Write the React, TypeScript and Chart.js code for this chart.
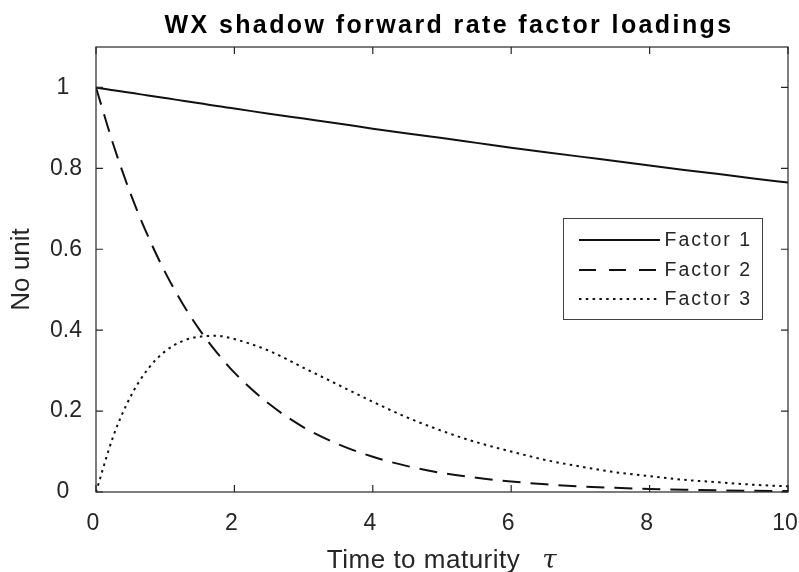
import { useEffect, useRef } from "react";
import { Chart, registerables } from "chart.js";

Chart.register(...registerables);

// ---- data ----
const tau = [0, 0.25, 0.5, 0.75, 1, 1.25, 1.5, 1.75, 2, 2.5, 3, 3.5, 4, 4.5, 5, 5.5, 6, 6.5, 7, 7.5, 8, 8.5, 9, 9.5, 10];
const factor1 = [1, 0.993, 0.987, 0.98, 0.974, 0.967, 0.961, 0.954, 0.948, 0.935, 0.923, 0.911, 0.898, 0.886, 0.875, 0.863, 0.851, 0.84, 0.829, 0.818, 0.807, 0.796, 0.786, 0.775, 0.765];
const factor2 = [1, 0.859, 0.737, 0.633, 0.543, 0.466, 0.4, 0.344, 0.295, 0.218, 0.16, 0.118, 0.087, 0.064, 0.047, 0.035, 0.026, 0.019, 0.014, 0.0103, 0.0076, 0.0056, 0.0041, 0.003, 0.0022];
const factor3 = [0, 0.138, 0.236, 0.304, 0.348, 0.373, 0.384, 0.386, 0.378, 0.349, 0.307, 0.265, 0.223, 0.184, 0.151, 0.123, 0.1, 0.079, 0.063, 0.049, 0.039, 0.03, 0.024, 0.018, 0.014];
const seriesNames = ["Factor 1", "Factor 2", "Factor 3"];
const xTickValues = [0, 2, 4, 6, 8, 10];
const xTickLabels = ["0", "2", "4", "6", "8", "10"];
const yTickValues = [0, 0.2, 0.4, 0.6, 0.8, 1];
const yTickLabels = ["0", "0.2", "0.4", "0.6", "0.8", "1"];
const titleText = "WX shadow forward rate factor loadings";
const xLabelText = "Time to maturity";
const xLabelSymbol = "τ";
const yLabelText = "No unit";

const FONT = "'Liberation Sans', Arial, Helvetica, sans-serif";
const SERIF = "'DejaVu Serif', 'Liberation Serif', serif";
const AXIS = "#262626";
const LINE = "#111111";
const plotDash = [[], [18, 10], [2.5, 4.3]];
const legendDash = [[], [17, 13], [2.5, 4.3]];

const decor = {
  id: "matlabDecor",
  afterDatasetsDraw(chart: any) {
    const { ctx, chartArea: a, scales } = chart;
    const x = scales.x;
    const y = scales.y;
    ctx.save();
    // axes box
    ctx.strokeStyle = AXIS;
    ctx.lineWidth = 1.2;
    ctx.setLineDash([]);
    ctx.strokeRect(a.left, a.top, a.right - a.left, a.bottom - a.top);
    const tl = 7;
    ctx.beginPath();
    xTickValues.forEach((v) => {
      const px = x.getPixelForValue(v);
      ctx.moveTo(px, a.bottom);
      ctx.lineTo(px, a.bottom - tl);
      ctx.moveTo(px, a.top);
      ctx.lineTo(px, a.top + tl);
    });
    yTickValues.forEach((v) => {
      const py = y.getPixelForValue(v);
      ctx.moveTo(a.left, py);
      ctx.lineTo(a.left + tl, py);
      ctx.moveTo(a.right, py);
      ctx.lineTo(a.right - tl, py);
    });
    ctx.stroke();

    // legend
    const lx = 563, ly = 218, lw = 199, lh = 101;
    ctx.fillStyle = "#ffffff";
    ctx.fillRect(lx, ly, lw, lh);
    ctx.strokeStyle = "#404040";
    ctx.lineWidth = 1;
    ctx.strokeRect(lx + 0.5, ly + 0.5, lw, lh);
    const rows = [240, 270, 299];
    ctx.font = `19.5px ${FONT}`;
    (ctx as any).letterSpacing = "2px";
    ctx.textBaseline = "middle";
    ctx.textAlign = "left";
    seriesNames.forEach((name, i) => {
      ctx.strokeStyle = LINE;
      ctx.lineWidth = 2;
      ctx.setLineDash(legendDash[i]);
      ctx.beginPath();
      ctx.moveTo(579, rows[i]);
      ctx.lineTo(660, rows[i]);
      ctx.stroke();
      ctx.fillStyle = AXIS;
      ctx.fillText(name, 664.5, rows[i] + 1);
    });
    ctx.setLineDash([]);

    // title
    ctx.font = `bold 25px ${FONT}`;
    (ctx as any).letterSpacing = "2.4px";
    ctx.fillStyle = "#000000";
    ctx.textBaseline = "alphabetic";
    const tw = ctx.measureText(titleText).width;
    ctx.fillText(titleText, 449 - tw / 2, 33);

    // x label
    (ctx as any).letterSpacing = "0.5px";
    ctx.font = `26px ${FONT}`;
    ctx.fillStyle = AXIS;
    const w1 = ctx.measureText(xLabelText).width;
    ctx.font = `italic 26px ${SERIF}`;
    const w2 = ctx.measureText(xLabelSymbol).width;
    const gap = 22;
    const cx = (a.left + a.right) / 2;
    const start = cx - (w1 + gap + w2) / 2;
    ctx.font = `26px ${FONT}`;
    ctx.fillText(xLabelText, start, 568);
    ctx.font = `italic 26px ${SERIF}`;
    ctx.fillText(xLabelSymbol, start + w1 + gap, 568);
    (ctx as any).letterSpacing = "0px";
    ctx.restore();
  },
};

export default function App() {
  const ref = useRef<HTMLCanvasElement | null>(null);

  useEffect(() => {
    if (!ref.current) return;
    const series = [factor1, factor2, factor3];
    const chart = new Chart(ref.current, {
      type: "line",
      data: {
        datasets: series.map((s, i) => ({
          label: seriesNames[i],
          data: tau.map((t, j) => ({ x: t, y: s[j] })),
          borderColor: LINE,
          borderWidth: 2,
          borderDash: plotDash[i],
          pointRadius: 0,
          fill: false,
          cubicInterpolationMode: "monotone" as const,
        })),
      },
      options: {
        animation: false,
        responsive: false,
        maintainAspectRatio: false,
        layout: { padding: { top: 47, right: 11, left: 0, bottom: 0 } },
        plugins: {
          legend: { display: false },
          title: { display: false },
          tooltip: { enabled: false },
        },
        scales: {
          x: {
            type: "linear",
            min: 0,
            max: 10,
            afterBuildTicks: (s: any) => {
              s.ticks = xTickValues.map((v) => ({ value: v }));
            },
            afterFit: (s: any) => {
              s.height = 80;
              s.paddingLeft = 0;
              s.paddingRight = 0;
            },
            grid: { display: false, drawTicks: false },
            border: { display: false },
            ticks: {
              padding: 18,
              labelOffset: -3,
              maxRotation: 0,
              autoSkip: false,
              color: AXIS,
              font: { family: FONT, size: 23 },
              callback: (v: any) => {
                const i = xTickValues.indexOf(Number(v));
                return i >= 0 ? xTickLabels[i] : "";
              },
            },
          },
          y: {
            type: "linear",
            min: 0,
            max: 1.1,
            afterBuildTicks: (s: any) => {
              s.ticks = yTickValues.map((v) => ({ value: v }));
            },
            afterFit: (s: any) => {
              s.width = 96;
              s.paddingTop = 0;
              s.paddingBottom = 0;
            },
            grid: { display: false, drawTicks: false },
            border: { display: false },
            title: {
              display: true,
              text: yLabelText,
              color: AXIS,
              font: { family: FONT, size: 26 },
              padding: { top: 6, bottom: 0 },
            },
            ticks: {
              padding: 14,
              autoSkip: false,
              color: AXIS,
              font: { family: FONT, size: 23 },
              callback: (v: any) => {
                const i = yTickValues.findIndex((t) => Math.abs(t - Number(v)) < 1e-9);
                if (i < 0) return "";
                const lab = yTickLabels[i];
                return lab.indexOf(".") < 0 ? lab + "  " : lab;
              },
            },
          },
        },
      },
      plugins: [decor],
    });
    return () => chart.destroy();
  }, []);

  return (
    <div style={{ position: "absolute", left: 0, top: 0, width: 799, height: 572, background: "#ffffff" }}>
      <canvas ref={ref} width={799} height={572} style={{ width: 799, height: 572, display: "block" }} />
    </div>
  );
}
